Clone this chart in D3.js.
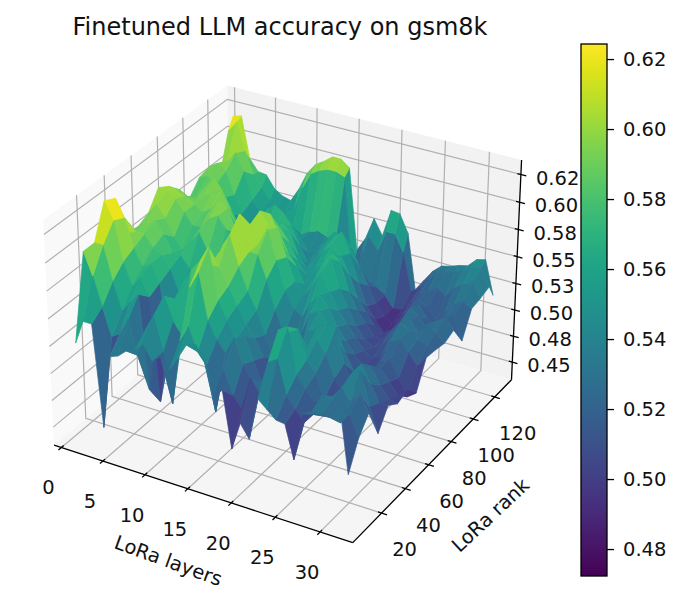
<!DOCTYPE html>
<html>
<head>
<meta charset="utf-8">
<script src="https://cdn.jsdelivr.net/npm/d3@7"></script>
<style>
  html, body { margin: 0; padding: 0; background: #fff; }
  text { font-family: "DejaVu Sans", sans-serif; fill: #111; }
</style>
</head>
<body>
<svg id="chart" width="680" height="600"></svg>
<script>
var layers = [1,2,3,4,5,6,7,8,9,10,11,12,13,14,15,16,17,18,19,20,21,22,23,24,25,26,27,28,29,30,31,32];
var ranks = [4,12,20,28,36,44,52,60,68,76,84,92,100,108,116,124,128];

// one row per rank, one column per layer count
var accuracy = [
  [.525,.547,.547,.454,.522,.525,.532,.535,.543,.530,.536,.527,.540,.554,.557,.545,.514,.523,.472,.498,.486,.525,.518,.511,.510,.480,.524,.529,.528,.528,.541,.482],
  [.600,.580,.555,.530,.535,.550,.520,.545,.560,.530,.485,.545,.560,.540,.530,.490,.530,.510,.500,.530,.520,.550,.555,.525,.515,.505,.515,.535,.530,.515,.525,.506],
  [.600,.600,.570,.545,.555,.565,.480,.540,.570,.550,.540,.585,.600,.560,.545,.535,.550,.530,.515,.520,.530,.570,.575,.535,.525,.515,.505,.525,.535,.525,.535,.520],
  [.630,.615,.580,.560,.570,.555,.460,.530,.560,.575,.590,.600,.615,.570,.555,.540,.545,.525,.505,.488,.515,.560,.565,.540,.530,.510,.495,.520,.540,.545,.515,.493],
  [.625,.610,.585,.570,.575,.560,.500,.535,.550,.570,.580,.590,.590,.575,.560,.545,.535,.520,.500,.485,.505,.530,.540,.550,.540,.520,.510,.530,.540,.525,.510,.510],
  [.587,.590,.590,.580,.575,.565,.545,.550,.545,.555,.575,.595,.610,.585,.565,.550,.530,.510,.500,.505,.520,.545,.550,.555,.555,.525,.505,.520,.530,.515,.505,.503],
  [.585,.590,.595,.585,.570,.570,.560,.555,.550,.565,.590,.600,.622,.590,.590,.570,.545,.525,.520,.530,.550,.555,.545,.535,.525,.510,.500,.515,.520,.510,.500,.507],
  [.590,.600,.590,.575,.565,.575,.585,.570,.560,.575,.595,.595,.605,.590,.605,.580,.555,.540,.535,.550,.560,.550,.535,.525,.515,.505,.500,.515,.520,.505,.490,.496],
  [.606,.605,.600,.590,.580,.580,.590,.595,.585,.570,.580,.590,.610,.600,.600,.575,.555,.545,.555,.570,.555,.540,.530,.520,.510,.505,.510,.525,.530,.520,.510,.520],
  [.600,.598,.595,.590,.585,.590,.600,.595,.575,.550,.560,.575,.600,.585,.570,.560,.545,.550,.565,.575,.550,.535,.520,.510,.505,.510,.520,.535,.530,.525,.520,.519],
  [.590,.585,.585,.590,.595,.600,.585,.570,.555,.540,.545,.565,.580,.570,.555,.545,.550,.560,.570,.565,.540,.525,.515,.505,.505,.515,.525,.530,.520,.530,.525,.517],
  [.575,.580,.590,.600,.590,.575,.560,.550,.545,.555,.565,.575,.570,.550,.540,.550,.560,.568,.560,.545,.525,.515,.505,.500,.505,.515,.530,.525,.515,.525,.530,.521],
  [.587,.590,.585,.575,.560,.545,.540,.555,.570,.580,.575,.565,.550,.535,.545,.555,.565,.572,.555,.530,.510,.500,.490,.495,.505,.520,.525,.515,.510,.520,.525,.503],
  [.590,.595,.590,.570,.555,.540,.550,.565,.570,.565,.555,.545,.535,.540,.550,.560,.560,.550,.535,.520,.505,.495,.490,.500,.510,.520,.515,.505,.515,.525,.530,.525],
  [.572,.590,.600,.585,.560,.550,.555,.560,.555,.545,.540,.545,.548,.545,.540,.530,.520,.525,.515,.510,.505,.495,.495,.505,.515,.520,.525,.520,.530,.535,.540,.527],
  [.610,.620,.595,.575,.565,.555,.550,.548,.552,.575,.590,.595,.598,.598,.595,.510,.525,.545,.535,.555,.555,.540,.505,.510,.520,.530,.532,.535,.538,.545,.545,.530],
  [.620,.622,.584,.574,.573,.562,.557,.555,.568,.585,.595,.600,.606,.606,.600,.525,.538,.559,.545,.571,.570,.554,.503,.514,.525,.532,.534,.537,.539,.547,.549,.518]
];

var xTicks = [0,5,10,15,20,25,30];
var yTicks = [20,40,60,80,100,120];
var zTicks = [0.45,0.475,0.5,0.525,0.55,0.575,0.6,0.625];
var zTickLabels = ["0.45","0.48","0.50","0.53","0.55","0.58","0.60","0.62"];
var barTicks = [0.48,0.5,0.52,0.54,0.56,0.58,0.6,0.62];

var xLim = [-0.9, 33.6], yLim = [-3.5, 136], zLim = [0.433, 0.638];
var colorLim = [0.4723, 0.6243];

var svg = d3.select("#chart");

// data -> box coordinates, same box shape matplotlib uses at elev 30, azim -60
var boxX = d3.scaleLinear().domain(xLim).range([-0.595, 0.595]);
var boxY = d3.scaleLinear().domain(yLim).range([-0.595, 0.595]);
var boxZ = d3.scaleLinear().domain(zLim).range([-0.4465, 0.4465]);
var color = d3.scaleSequential(d3.interpolateViridis).domain(colorLim).clamp(true);

function project(x, y, z) {
  var px = boxX(x), py = boxY(y), pz = boxZ(z);
  var u = 0.866 * px + 0.5 * py;
  var v = -0.25 * px + 0.433 * py + 0.866 * pz;
  var w = 10 - (0.433 * px - 0.75 * py + 0.5 * pz);
  return { sx: 287 + 2876 * u / w, sy: 303 - 2876 * v / w, depth: w };
}

var line = d3.line().x(function (d) { return d.sx; }).y(function (d) { return d.sy; });

function path3d(pts) {
  return line(pts.map(function (p) { return project(p[0], p[1], p[2]); }));
}

// panes
var panes = [
  { fill: "#f9f9f9", pts: [[xLim[0],yLim[0],zLim[0]],[xLim[0],yLim[1],zLim[0]],[xLim[0],yLim[1],zLim[1]],[xLim[0],yLim[0],zLim[1]]] },
  { fill: "#f2f2f2", pts: [[xLim[0],yLim[1],zLim[0]],[xLim[1],yLim[1],zLim[0]],[xLim[1],yLim[1],zLim[1]],[xLim[0],yLim[1],zLim[1]]] },
  { fill: "#f5f5f5", pts: [[xLim[0],yLim[0],zLim[0]],[xLim[1],yLim[0],zLim[0]],[xLim[1],yLim[1],zLim[0]],[xLim[0],yLim[1],zLim[0]]] }
];
svg.append("g").selectAll("path").data(panes).join("path")
  .attr("d", function (d) { return path3d(d.pts) + "Z"; })
  .attr("fill", function (d) { return d.fill; });

// grid
var gridLines = [];
xTicks.forEach(function (t) {
  gridLines.push([[t,yLim[0],zLim[0]],[t,yLim[1],zLim[0]],[t,yLim[1],zLim[1]]]);
});
yTicks.forEach(function (t) {
  gridLines.push([[xLim[1],t,zLim[0]],[xLim[0],t,zLim[0]],[xLim[0],t,zLim[1]]]);
});
zTicks.forEach(function (t) {
  gridLines.push([[xLim[0],yLim[0],t],[xLim[0],yLim[1],t],[xLim[1],yLim[1],t]]);
});
svg.append("g").selectAll("path").data(gridLines).join("path")
  .attr("d", path3d)
  .attr("fill", "none")
  .attr("stroke", "#b0b0b0")
  .attr("stroke-width", 1.2);

// axis lines
var axisLines = [
  [[xLim[0],yLim[0],zLim[0]],[xLim[1],yLim[0],zLim[0]]],
  [[xLim[1],yLim[0],zLim[0]],[xLim[1],yLim[1],zLim[0]]],
  [[xLim[1],yLim[1],zLim[0]],[xLim[1],yLim[1],zLim[1]]]
];
xTicks.forEach(function (t) { axisLines.push([[t,yLim[0]+1.6,zLim[0]],[t,yLim[0]-2.2,zLim[0]]]); });
yTicks.forEach(function (t) { axisLines.push([[xLim[1]-0.4,t,zLim[0]],[xLim[1]+0.6,t,zLim[0]]]); });
zTicks.forEach(function (t) { axisLines.push([[xLim[1]-0.4,yLim[1],t],[xLim[1]+0.6,yLim[1],t]]); });
svg.append("g").selectAll("path").data(axisLines).join("path")
  .attr("d", path3d)
  .attr("fill", "none")
  .attr("stroke", "#000")
  .attr("stroke-width", 1.3);

// surface, far cells first
var cells = [];
d3.range(ranks.length - 1).forEach(function (j) {
  d3.range(layers.length - 1).forEach(function (i) {
    var pts = [
      [layers[i], ranks[j], accuracy[j][i]],
      [layers[i + 1], ranks[j], accuracy[j][i + 1]],
      [layers[i + 1], ranks[j + 1], accuracy[j + 1][i + 1]],
      [layers[i], ranks[j + 1], accuracy[j + 1][i]]
    ];
    cells.push({
      pts: pts,
      mean: d3.mean(pts, function (p) { return p[2]; }),
      depth: d3.mean(pts, function (p) { return project(p[0], p[1], p[2]).depth; })
    });
  });
});
cells.sort(function (a, b) { return b.depth - a.depth; });
svg.append("g").selectAll("path").data(cells).join("path")
  .attr("d", function (d) { return path3d(d.pts) + "Z"; })
  .attr("fill", function (d) { return color(d.mean); })
  .attr("stroke", function (d) { return color(d.mean); })
  .attr("stroke-width", 0.7)
  .attr("stroke-linejoin", "round");

// tick labels
svg.append("g").selectAll("text").data(xTicks).join("text")
  .attr("x", function (d) { return project(d, yLim[0], zLim[0]).sx - 13; })
  .attr("y", function (d) { return project(d, yLim[0], zLim[0]).sy + 47; })
  .attr("text-anchor", "middle").attr("font-size", 19.5)
  .text(function (d) { return d; });
svg.append("g").selectAll("text").data(yTicks).join("text")
  .attr("x", function (d) { return project(xLim[1], d, zLim[0]).sx + 23; })
  .attr("y", function (d) { return project(xLim[1], d, zLim[0]).sy + 43; })
  .attr("text-anchor", "middle").attr("font-size", 19.5)
  .text(function (d) { return d; });
svg.append("g").selectAll("text").data(zTicks).join("text")
  .attr("x", function (d) { return project(xLim[1], yLim[1], d).sx + 15; })
  .attr("y", function (d) { return project(xLim[1], yLim[1], d).sy + 10; })
  .attr("font-size", 19.5)
  .text(function (d, i) { return zTickLabels[i]; });

svg.append("text").attr("x", 280).attr("y", 35).attr("text-anchor", "middle")
  .attr("font-size", 24).text("Finetuned LLM accuracy on gsm8k");
svg.append("text").attr("transform", "translate(166,567) rotate(20)")
  .attr("text-anchor", "middle").attr("font-size", 19.5).text("LoRa layers");
svg.append("text").attr("transform", "translate(495,520) rotate(-43)")
  .attr("text-anchor", "middle").attr("font-size", 19.5).text("LoRa rank");

// colorbar
var barY = d3.scaleLinear().domain(colorLim).range([576, 44]);
var grad = svg.append("defs").append("linearGradient")
  .attr("id", "viridisBar").attr("x1", 0).attr("y1", 1).attr("x2", 0).attr("y2", 0);
grad.selectAll("stop").data(d3.range(0, 1.001, 0.05)).join("stop")
  .attr("offset", function (d) { return d; })
  .attr("stop-color", function (d) { return d3.interpolateViridis(d); });
svg.append("rect").attr("x", 581).attr("y", 44).attr("width", 26).attr("height", 532)
  .attr("fill", "url(#viridisBar)").attr("stroke", "#000").attr("stroke-width", 1.3);
var barAxis = svg.append("g").attr("transform", "translate(607,0)")
  .call(d3.axisRight(barY).tickValues(barTicks).tickFormat(d3.format(".2f")).tickSize(7).tickPadding(9));
barAxis.select(".domain").remove();
barAxis.selectAll("line").attr("stroke", "#000").attr("stroke-width", 1.3);
barAxis.selectAll("text").attr("font-size", 19.5).attr("font-family", "DejaVu Sans, sans-serif");
</script>
</body>
</html>
